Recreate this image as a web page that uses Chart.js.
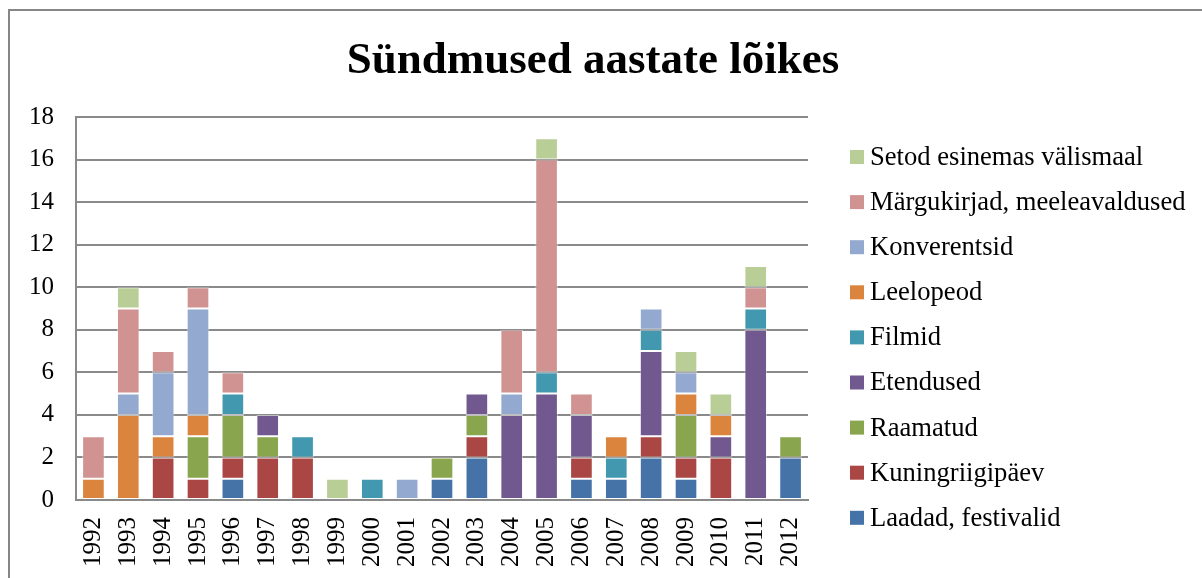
<!DOCTYPE html>
<html>
<head>
<meta charset="utf-8">
<script src="https://cdn.jsdelivr.net/npm/chart.js@4.4.1/dist/chart.umd.min.js"></script>
<style>
  html, body { margin: 0; padding: 0; background: #ffffff; overflow: hidden; }
  #wrap { position: relative; width: 1202px; height: 578px; }
  #frame { position: absolute; left: 8px; top: 9px; width: 1300px; height: 700px;
           border-left: 2px solid #868686; border-top: 2px solid #868686; pointer-events: none; }
  canvas { position: absolute; left: 0; top: 0; }
</style>
</head>
<body>
<div id="wrap">
  <div id="frame"></div>
  <canvas id="c" width="1202" height="578"></canvas>
</div>
<script>
const years = ["1992","1993","1994","1995","1996","1997","1998","1999","2000","2001","2002",
               "2003","2004","2005","2006","2007","2008","2009","2010","2011","2012"];
const yTicks = [0, 2, 4, 6, 8, 10, 12, 14, 16, 18];
const titleText = "Sündmused aastate lõikes";

const laadad     = [0,0,0,0,1,0,0,0,0,0,1,2,0,0,1,1,2,1,0,0,2];
const kuningriik = [0,0,2,1,1,2,2,0,0,0,0,1,0,0,1,0,1,1,2,0,0];
const raamatud   = [0,0,0,2,2,1,0,0,0,0,1,1,0,0,0,0,0,2,0,0,1];
const etendused  = [0,0,0,0,0,1,0,0,0,0,0,1,4,5,2,0,4,0,1,8,0];
const filmid     = [0,0,0,0,1,0,1,0,1,0,0,0,0,1,0,1,1,0,0,1,0];
const leelopeod  = [1,4,1,1,0,0,0,0,0,0,0,0,0,0,0,1,0,1,1,0,0];
const konverents = [0,1,3,5,0,0,0,0,0,1,0,0,1,0,0,0,1,1,0,0,0];
const margukiri  = [2,4,1,1,1,0,0,0,0,0,0,0,3,10,1,0,0,0,0,1,0];
const setod      = [0,1,0,0,0,0,0,1,0,0,0,0,0,1,0,0,0,1,1,1,0];

const seriesNames = ["Laadad, festivalid","Kuningriigipäev","Raamatud","Etendused","Filmid",
                     "Leelopeod","Konverentsid","Märgukirjad, meeleavaldused","Setod esinemas välismaal"];
const seriesData = [laadad, kuningriik, raamatud, etendused, filmid, leelopeod, konverents, margukiri, setod];
const seriesColors = ["#4572A7","#AA4643","#89A54E","#71588F","#4198AF","#DB843D","#93A9CF","#D19392","#B9CD96"];

const FONT = "'Liberation Serif', 'Times New Roman', serif";

const datasets = seriesNames.map((n, i) => ({
  label: n,
  data: seriesData[i],
  backgroundColor: seriesColors[i],
  borderColor: 'rgba(255,255,255,0.45)',
  borderWidth: 1,
  borderSkipped: false,
  barPercentage: 0.65,
  categoryPercentage: 1.0
}));

const overlay = {
  id: 'overlay',
  afterDraw(chart) {
    const ctx = chart.ctx;
    ctx.save();
    ctx.fillStyle = '#000';
    ctx.font = "bold 45px " + FONT;
    ctx.textAlign = 'center';
    ctx.textBaseline = 'alphabetic';
    ctx.fillText(titleText, 593, 73);
    ctx.font = "26.6px " + FONT;
    ctx.textAlign = 'left';
    ctx.textBaseline = 'middle';
    const n = seriesNames.length;
    for (let k = 0; k < n; k++) {
      const i = n - 1 - k;
      const cy = 157 + k * 45.1;
      ctx.fillStyle = seriesColors[i];
      ctx.fillRect(850, cy - 7, 14, 14);
      ctx.fillStyle = '#000';
      ctx.fillText(seriesNames[i], 870, cy + 1);
    }
    ctx.restore();
  }
};

new Chart(document.getElementById('c'), {
  type: 'bar',
  data: { labels: years, datasets },
  options: {
    responsive: false,
    animation: false,
    devicePixelRatio: 1,
    layout: { padding: { left: 0, top: 117, right: 394, bottom: 0 } },
    plugins: { legend: { display: false }, title: { display: false }, tooltip: { enabled: false } },
    scales: {
      x: {
        stacked: true,
        grid: { display: false, drawTicks: false },
        border: { display: true, color: '#8a8a8a', width: 2 },
        ticks: {
          autoSkip: false, maxRotation: 90, minRotation: 90, padding: 17,
          color: '#000', font: { family: FONT, size: 25 }
        },
        afterFit(scale) { scale.height = 78; }
      },
      y: {
        stacked: true,
        min: 0, max: 18,
        afterBuildTicks(scale) { scale.ticks = yTicks.map(v => ({ value: v })); },
        grid: { color: '#8a8a8a', lineWidth: 2, drawTicks: false },
        border: { display: true, color: '#8a8a8a', width: 2 },
        ticks: { padding: 22, color: '#000', font: { family: FONT, size: 25 } },
        afterFit(scale) { scale.width = 76; }
      }
    }
  },
  plugins: [overlay]
});
</script>
</body>
</html>
